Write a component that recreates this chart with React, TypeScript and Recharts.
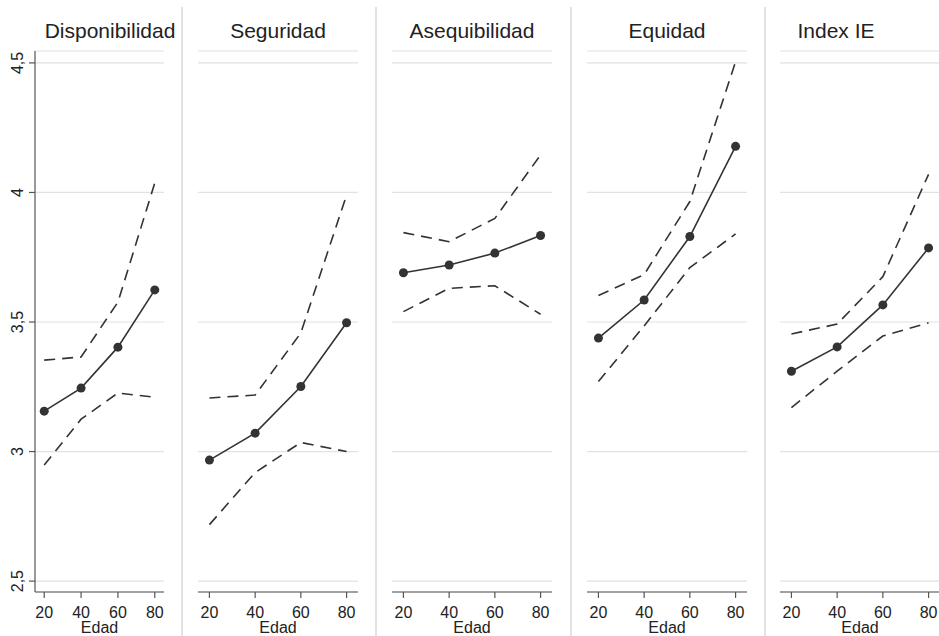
import React from 'react';
import { LineChart, Line, XAxis, YAxis, CartesianGrid, Label } from 'recharts';

const ages = [20, 40, 60, 80];
const panelTitles = ['Disponibilidad', 'Seguridad', 'Asequibilidad', 'Equidad', 'Index IE'];

const dispEst = [3.156, 3.245, 3.403, 3.624];
const dispUpper = [3.353, 3.365, 3.577, 4.037];
const dispLower = [2.948, 3.125, 3.226, 3.21];

const segEst = [2.967, 3.071, 3.251, 3.497];
const segUpper = [3.207, 3.218, 3.458, 3.99];
const segLower = [2.718, 2.919, 3.035, 3.0];

const aseqEst = [3.69, 3.72, 3.766, 3.834];
const aseqUpper = [3.845, 3.81, 3.9, 4.145];
const aseqLower = [3.54, 3.63, 3.64, 3.53];

const equEst = [3.438, 3.585, 3.83, 4.178];
const equUpper = [3.602, 3.683, 3.965, 4.505];
const equLower = [3.27, 3.485, 3.71, 3.84];

const ieEst = [3.31, 3.404, 3.566, 3.786];
const ieUpper = [3.454, 3.492, 3.675, 4.07];
const ieLower = [3.17, 3.31, 3.446, 3.497];

const yTicks = [2.5, 3, 3.5, 4, 4.5];
const xTicks = [20, 40, 60, 80];

const series = [
  { est: dispEst, upper: dispUpper, lower: dispLower },
  { est: segEst, upper: segUpper, lower: segLower },
  { est: aseqEst, upper: aseqUpper, lower: aseqLower },
  { est: equEst, upper: equUpper, lower: equLower },
  { est: ieEst, upper: ieUpper, lower: ieLower },
];

// chart boxes (left, width, plot margins) and title centres
const panels = [
  { left: 0, width: 181, mLeft: 0, mRight: 17, titleX: 110 },
  { left: 181, width: 194, mLeft: 17, mRight: 17, titleX: 278 },
  { left: 375, width: 195, mLeft: 17, mRight: 18, titleX: 472 },
  { left: 570, width: 194, mLeft: 17, mRight: 17, titleX: 667 },
  { left: 764, width: 176, mLeft: 16, mRight: 0, titleX: 836 },
];
const separators = [181, 375, 570, 764];

const FONT = 'Arial, "Liberation Sans", sans-serif';
const INK = '#333';

const fmt = (v: number) => String(v).replace('.', ',');

const YTick = (props: any) => {
  const { y, payload } = props;
  return (
    <text
      x={0}
      y={0}
      transform={`translate(23, ${y}) rotate(-90)`}
      textAnchor="middle"
      fontSize={16}
      fontFamily={FONT}
      fill="#222"
    >
      {fmt(payload.value)}
    </text>
  );
};

const EdadLabel = (props: any) => {
  const vb = props.viewBox || {};
  return (
    <text
      x={vb.x + vb.width / 2}
      y={vb.y + 41}
      textAnchor="middle"
      fontSize={16}
      fontFamily={FONT}
      fill="#222"
    >
      Edad
    </text>
  );
};

function Panel({ idx }: { idx: number }) {
  const p = panels[idx];
  const s = series[idx];
  const data = ages.map((a, i) => ({
    age: a,
    est: s.est[i],
    upper: s.upper[i],
    lower: s.lower[i],
  }));
  const first = idx === 0;
  return (
    <div style={{ position: 'absolute', left: p.left, top: 0 }}>
      <LineChart
        width={p.width}
        height={636}
        data={data}
        margin={{ top: 51, right: p.mRight, left: p.mLeft, bottom: 0 }}
      >
        <CartesianGrid horizontal vertical={false} stroke="#e2e2e2" strokeWidth={1.2} />
        <XAxis
          dataKey="age"
          type="number"
          domain={[15, 85]}
          ticks={xTicks}
          allowDataOverflow
          height={44}
          axisLine={{ stroke: '#555', strokeWidth: 1.2 }}
          tickLine={{ stroke: '#555', strokeWidth: 1.2 }}
          tickSize={6}
          tickMargin={9}
          tick={{ fontSize: 16, fill: '#222', fontFamily: FONT }}
        >
          <Label content={<EdadLabel />} />
        </XAxis>
        <YAxis
          type="number"
          domain={[2.458, 4.546]}
          ticks={yTicks}
          allowDataOverflow
          hide={!first}
          width={35}
          axisLine={{ stroke: '#555', strokeWidth: 1.2 }}
          tickLine={{ stroke: '#555', strokeWidth: 1.2 }}
          tickSize={6}
          tick={<YTick />}
        />
        <Line
          dataKey="upper"
          stroke={INK}
          strokeWidth={1.6}
          strokeDasharray="11 7"
          dot={false}
          isAnimationActive={false}
        />
        <Line
          dataKey="lower"
          stroke={INK}
          strokeWidth={1.6}
          strokeDasharray="11 7"
          dot={false}
          isAnimationActive={false}
        />
        <Line
          dataKey="est"
          stroke={INK}
          strokeWidth={1.6}
          dot={{ r: 4.5, fill: INK, stroke: INK, strokeWidth: 0 }}
          isAnimationActive={false}
        />
      </LineChart>
    </div>
  );
}

export default function App() {
  return (
    <div
      style={{
        position: 'absolute',
        left: 0,
        top: 0,
        width: 939,
        height: 636,
        background: '#fff',
        overflow: 'hidden',
        fontFamily: FONT,
      }}
    >
      {separators.map((x) => (
        <div
          key={x}
          style={{ position: 'absolute', left: x, top: 7, width: 1.5, height: 629, background: '#e2e2e2' }}
        />
      ))}
      {panels.map((p, i) => (
        <Panel key={i} idx={i} />
      ))}
      {panels.map((p, i) => (
        <div
          key={'t' + i}
          style={{
            position: 'absolute',
            left: p.titleX - 90,
            width: 180,
            top: 19,
            textAlign: 'center',
            fontSize: 21,
            color: '#222',
            whiteSpace: 'nowrap',
          }}
        >
          {panelTitles[i]}
        </div>
      ))}
    </div>
  );
}
